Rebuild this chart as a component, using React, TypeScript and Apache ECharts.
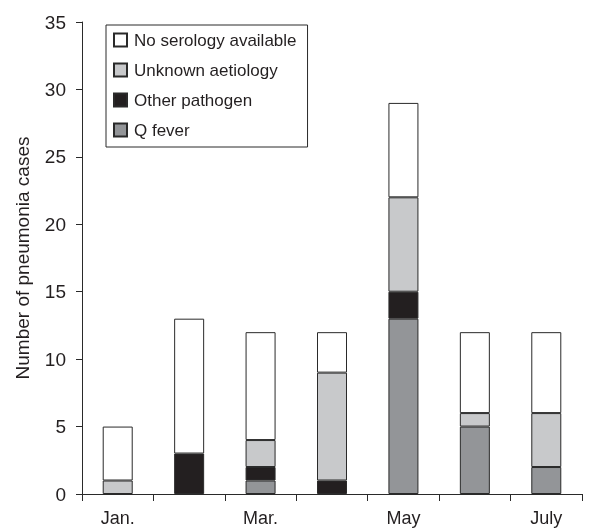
import React, { useEffect, useRef } from "react";
import * as echarts from "echarts";

const months = ["Jan.", "Feb.", "Mar.", "Apr.", "May", "June", "July"];
const qFever = [0, 0, 1, 0, 13, 5, 2];
const otherPathogen = [0, 3, 1, 1, 2, 0, 0];
const unknownAetiology = [1, 0, 2, 8, 7, 1, 4];
const noSerology = [4, 10, 8, 3, 7, 6, 6];
const yTicks = [0, 5, 10, 15, 20, 25, 30, 35];

const FONT = "Liberation Sans, Arial, Helvetica, sans-serif";
const BORDER = "#2a2a2a";
const TEXT = "#231f20";

export default function App() {
  const ref = useRef<HTMLDivElement>(null);
  useEffect(() => {
    if (!ref.current) return;
    const chart = echarts.init(ref.current, undefined, { renderer: "svg" });
    const mk = (name: string, data: number[], color: string) => ({
      name,
      type: "bar",
      stack: "total",
      barWidth: "42%",
      data: data.map((v) => (v === 0 ? null : v)),
      itemStyle: { color, borderColor: BORDER, borderWidth: 1 },
      emphasis: { disabled: true },
    });
    chart.setOption({
      animation: false,
      textStyle: { fontFamily: FONT },
      grid: { left: 82, top: 22, right: 18, bottom: 36, containLabel: false, outerBoundsMode: "none" },
      legend: {
        orient: "vertical",
        left: 106,
        top: 25,
        data: ["No serology available", "Unknown aetiology", "Other pathogen", "Q fever"],
        borderColor: BORDER,
        borderWidth: 1,
        padding: [6, 11, 8, 7],
        itemGap: 12,
        itemWidth: 13,
        itemHeight: 13,
        icon: "rect",
        selectedMode: false,
        textStyle: { fontSize: 17, lineHeight: 18, color: TEXT, fontFamily: FONT, padding: [0, 0, 0, 2] },
      },
      xAxis: {
        type: "category",
        data: months,
        axisLine: { lineStyle: { color: BORDER, width: 1 } },
        axisTick: { show: true, length: 7, alignWithLabel: false, interval: 0, lineStyle: { color: BORDER } },
        axisLabel: { interval: 1, fontSize: 18, color: TEXT, margin: 15, fontFamily: FONT },
      },
      yAxis: {
        type: "value",
        min: yTicks[0],
        max: yTicks[yTicks.length - 1],
        interval: 5,
        name: "Number of pneumonia cases",
        nameLocation: "middle",
        nameGap: 50,
        nameTextStyle: { fontSize: 19, color: TEXT, fontFamily: FONT },
        axisLine: { show: true, lineStyle: { color: BORDER, width: 1 } },
        axisTick: { show: true, length: 6, lineStyle: { color: BORDER } },
        axisLabel: { fontSize: 19, color: TEXT, margin: 16, fontFamily: FONT },
        splitLine: { show: false },
      },
      series: [
        mk("Q fever", qFever, "#939598"),
        mk("Other pathogen", otherPathogen, "#231f20"),
        mk("Unknown aetiology", unknownAetiology, "#c8c9cb"),
        mk("No serology available", noSerology, "#ffffff"),
      ],
    });
    return () => chart.dispose();
  }, []);
  return (
    <div
      ref={ref}
      style={{ position: "fixed", left: 0, top: 0, width: 600, height: 530 }}
    />
  );
}
